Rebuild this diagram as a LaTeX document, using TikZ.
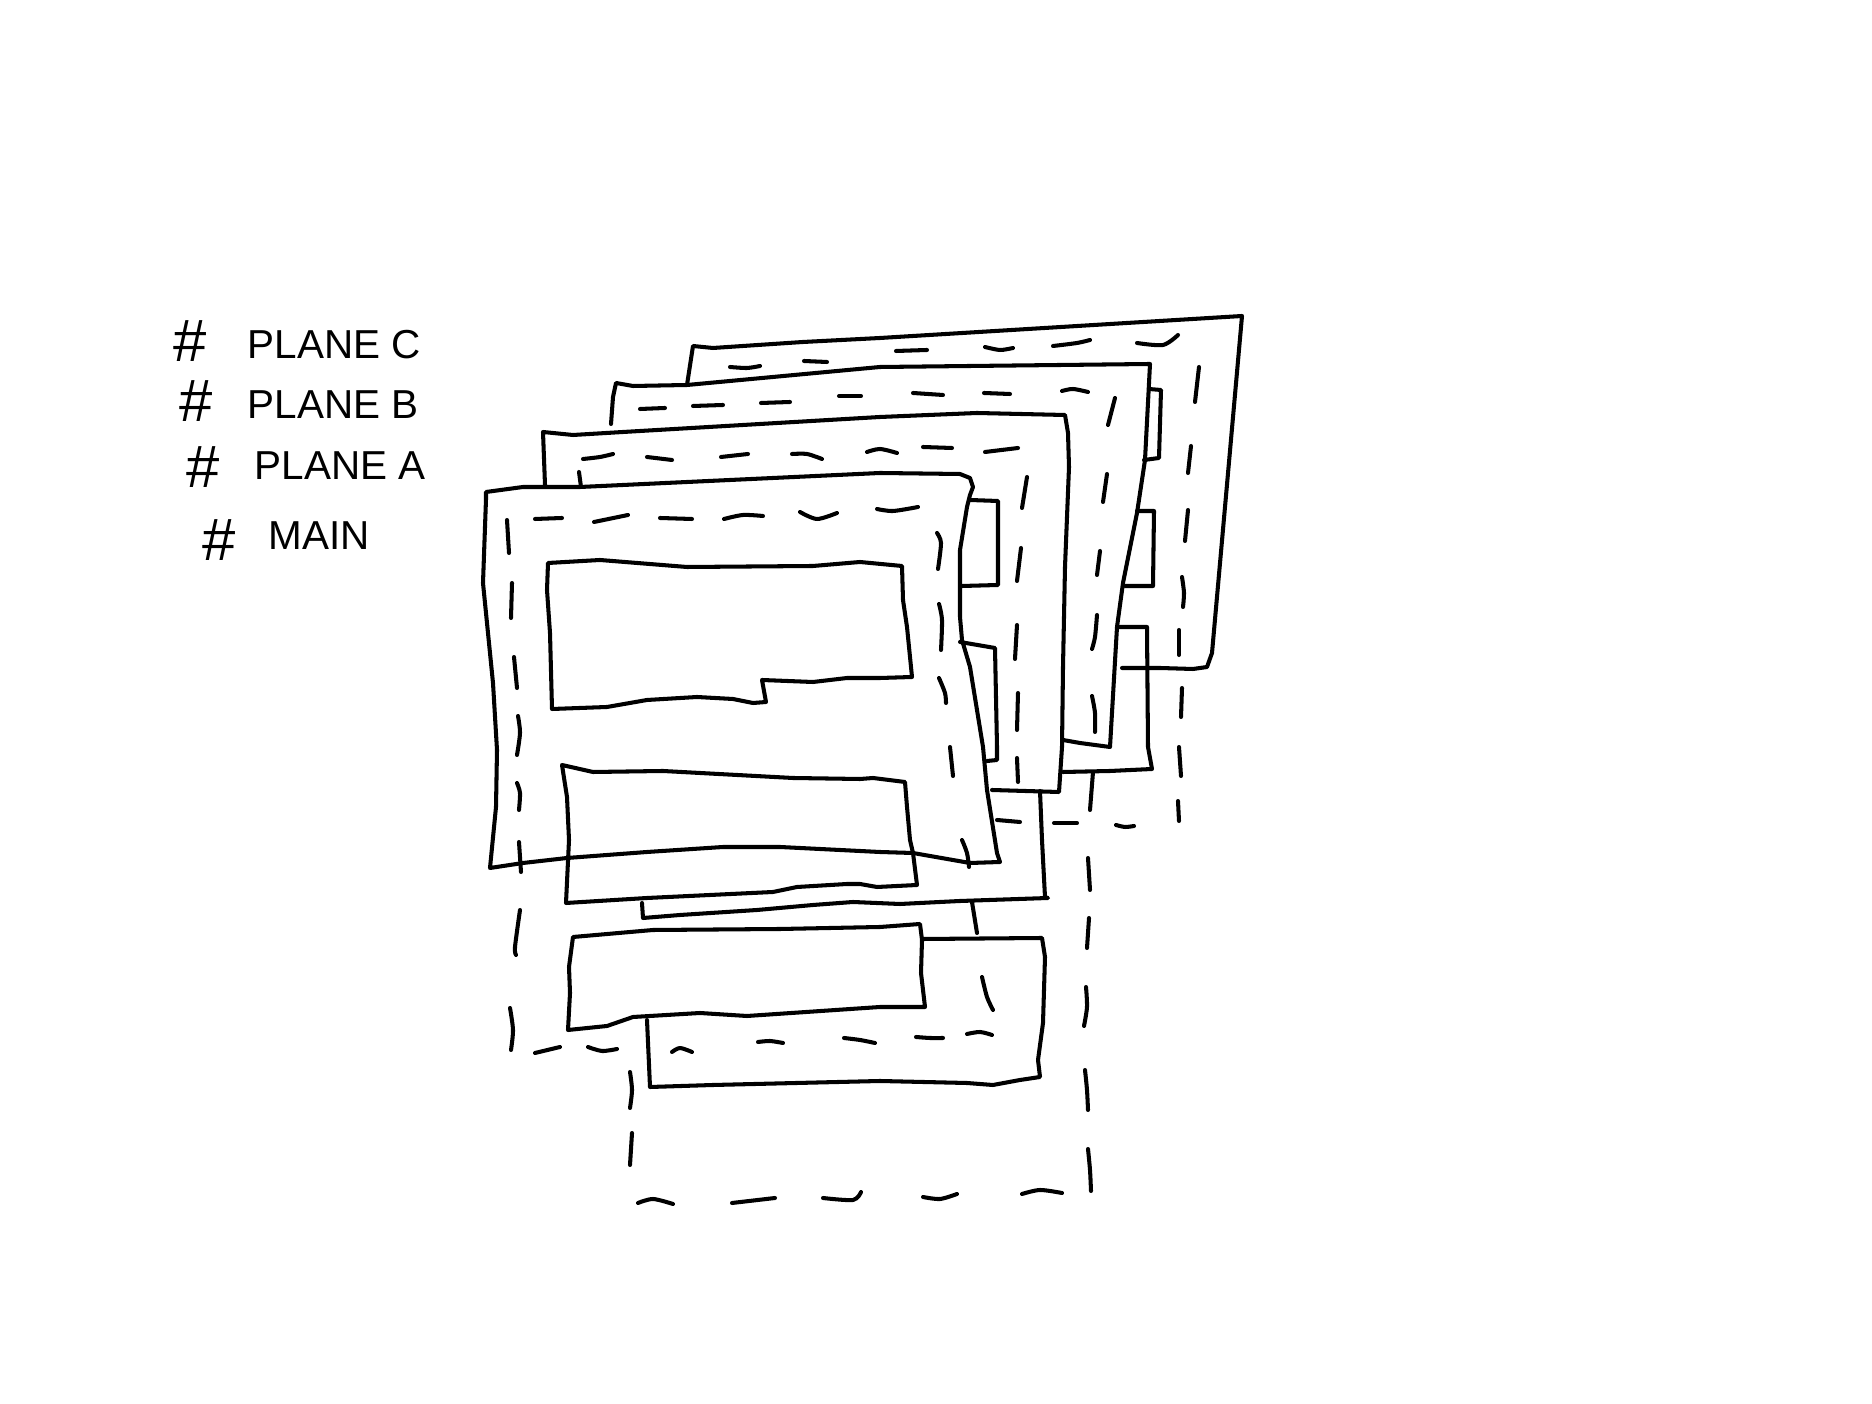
\documentclass[tikz,border=0pt]{standalone}
\usepackage{fontspec}
\setmainfont{Liberation Sans}
\newcommand{\skd}[1]{\draw[ln] plot[smooth] coordinates {#1};}
\begin{document}
\begin{tikzpicture}[x=0.01cm,y=-0.01cm,
  ln/.style={line width=1.15pt, line join=round, line cap=round},
  lbl/.style={font=\fontsize{11.5}{12}\selectfont, inner sep=0pt, anchor=west},
  hsh/.style={font=\fontsize{17}{17}\selectfont, inner sep=0pt}]
\useasboundingbox[fill=white] (0,0) rectangle (1872,1404);

% legend
\node[hsh] (hc) at (190,341) {\#};
\node[lbl] (lc) at (247,345) {PLANE C};
\node[hsh] (hb) at (196,401) {\#};
\node[lbl] (lb) at (247,405) {PLANE B};
\node[hsh] (ha) at (203,467) {\#};
\node[lbl] (la) at (254,466) {PLANE A};
\node[hsh] (hm) at (219,540) {\#};
\node[lbl] (lm) at (268,536) {MAIN};

% ---------- plane C ----------
\draw[ln] (687,385) -- (693,346) -- (713,348) -- (803,342) -- (880,338) -- (1242,316) -- (1212,653) -- (1207,667) -- (1193,669) -- (1160,668) -- (1122,668);
\skd{(730,367)(747,368)(760,366)}
\skd{(804,361)(827,362)}
\skd{(896,351)(927,350)}
\skd{(985,347)(1000,350)(1013,348)}
\skd{(1053,346)(1077,343)(1090,340)}
\skd{(1137,343)(1163,345)(1178,335)}
\skd{(1199,367)(1195,402)}
\skd{(1191,446)(1188,473)}
\skd{(1188,510)(1185,541)}
\skd{(1182,577)(1184,593)(1183,607)}
\skd{(1179,630)(1179,655)}
\skd{(1182,688)(1181,717)}
\skd{(1179,747)(1181,776)}
\skd{(1178,801)(1179,821)}
\skd{(997,820)(1020,822)}
\skd{(1054,823)(1077,823)}
\skd{(1116,825)(1125,827)(1134,826)}

% ---------- plane B ----------
\draw[ln] (611,424) -- (613,397) -- (616,383) -- (633,386) -- (687,385) -- (880,367) -- (1150,364) -- (1145,460) -- (1137,513) -- (1123,583) -- (1117,627) -- (1110,747) -- (1080,743) -- (1063,740);
\draw[ln] (1149,389) -- (1161,390) -- (1159,458) -- (1144,460);
\draw[ln] (1137,511) -- (1154,511) -- (1153,586) -- (1125,586);
\draw[ln] (1118,627) -- (1147,627) -- (1148,747) -- (1152,769) -- (1110,771) -- (1063,772);
\skd{(640,409)(665,408)}
\skd{(693,406)(723,405)}
\skd{(761,403)(790,402)}
\skd{(839,396)(861,396)}
\skd{(913,393)(943,395)}
\skd{(984,393)(1010,394)}
\skd{(1062,391)(1073,389)(1088,392)}
\skd{(1115,398)(1108,425)}
\skd{(1107,474)(1103,502)}
\skd{(1100,551)(1097,575)}
\skd{(1097,615)(1095,637)(1092,649)}
\skd{(1092,696)(1095,713)(1095,732)}
\skd{(1093,772)(1090,810)}
\skd{(1088,858)(1090,890)}
\skd{(1089,918)(1087,948)}
\skd{(1086,987)(1087,1007)(1084,1026)}
\skd{(1085,1070)(1087,1090)(1088,1110)}
\skd{(1088,1149)(1090,1170)(1091,1191)}
\skd{(638,1203)(653,1199)(673,1204)}
\skd{(732,1203)(775,1198)}
\skd{(823,1198)(853,1200)(861,1192)}
\skd{(923,1197)(940,1199)(957,1194)}
\skd{(1022,1194)(1040,1190)(1062,1193)}
\skd{(630,1072)(632,1090)(630,1108)}
\skd{(632,1133)(630,1165)}

% ---------- plane A ----------
\draw[ln] (545,485) -- (543,432) -- (573,435) -- (623,432) -- (880,417) -- (977,413) -- (1065,415) -- (1068,433) -- (1069,467) -- (1065,567) -- (1063,667) -- (1062,747) -- (1059,792) -- (992,790);
\draw[ln] (1040,791) -- (1042,840) -- (1045,897) -- (1048,898) -- (960,901) -- (900,904) -- (853,902) -- (813,905) -- (757,910) -- (680,915) -- (643,918) -- (642,903);
\draw[ln] (970,500) -- (998,501) -- (998,585) -- (962,586);
\draw[ln] (960,642) -- (995,648) -- (997,747) -- (997,760) -- (987,761);
\skd{(583,459)(600,457)(613,454)}
\skd{(647,457)(672,460)}
\skd{(721,457)(748,454)}
\skd{(792,454)(807,454)(822,459)}
\skd{(867,452)(880,449)(897,453)}
\skd{(923,447)(952,448)}
\skd{(985,452)(1018,448)}
\skd{(579,472)(581,487)}
\skd{(1027,477)(1022,508)}
\skd{(1021,548)(1017,581)}
\skd{(1017,625)(1015,659)}
\skd{(1018,693)(1017,730)}
\skd{(1017,758)(1018,782)}

% ---------- main ----------
\draw[ln] (486,492) -- (523,487) -- (580,487) -- (880,473) -- (960,474) -- (970,478) -- (973,487) -- (970,495) -- (967,507) -- (960,550) -- (960,617) -- (962,640) -- (970,667) -- (983,747) -- (987,790) -- (997,853) -- (1000,862) -- (970,863) -- (913,853) -- (880,852) -- (780,847) -- (723,847) -- (647,852) -- (567,858) -- (523,863) -- (490,868) -- (496,807) -- (497,750) -- (493,683) -- (483,583) -- (486,499) -- cycle;
\skd{(535,519)(562,518)}
\skd{(594,522)(628,515)}
\skd{(660,518)(692,519)}
\skd{(724,519)(743,515)(763,516)}
\skd{(800,512)(817,519)(837,513)}
\skd{(877,509)(893,511)(918,507)}
\skd{(507,520)(509,553)}
\skd{(512,583)(511,618)}
\skd{(514,657)(517,688)}
\skd{(518,716)(520,733)(517,755)}
\skd{(517,783)(520,793)(519,810)}
\skd{(519,842)(521,872)}
\skd{(520,910)(515,947)(516,955)}
\skd{(510,1008)(513,1030)(511,1050)}
\skd{(535,1053)(560,1047)}
\skd{(588,1047)(602,1051)(617,1049)}
\skd{(672,1052)(680,1048)(692,1052)}
\skd{(758,1042)(770,1041)(783,1043)}
\skd{(844,1038)(860,1040)(875,1043)}
\skd{(916,1037)(930,1038)(943,1038)}
\skd{(967,1034)(980,1032)(992,1035)}
\skd{(937,533)(941,543)(938,569)}
\skd{(939,604)(942,620)(941,650)}
\skd{(939,678)(945,693)(946,703)}
\skd{(950,747)(953,776)}
\skd{(962,840)(967,853)(969,867)}
\skd{(972,902)(977,933)}
\skd{(982,977)(987,997)(993,1010)}

% inner rectangles
\draw[ln] (548,563) -- (600,560) -- (687,567) -- (813,566) -- (860,562) -- (902,566) -- (903,600) -- (907,627) -- (912,677) -- (880,678) -- (847,678) -- (813,682) -- (762,680) -- (766,702) -- (753,703) -- (733,699) -- (697,697) -- (647,700) -- (607,707) -- (552,709) -- (550,633) -- (547,590) -- cycle;
\draw[ln] (562,765) -- (593,772) -- (663,771) -- (793,778) -- (860,779) -- (873,778) -- (905,782) -- (907,807) -- (910,840) -- (913,853) -- (917,885) -- (877,887) -- (860,884) -- (847,884) -- (797,887) -- (773,892) -- (647,898) -- (566,903) -- (569,840) -- (567,797) -- cycle;
\draw[ln] (573,937) -- (653,930) -- (780,929) -- (880,927) -- (920,924) -- (922,940) -- (921,973) -- (925,1007) -- (880,1007) -- (747,1016) -- (700,1013) -- (633,1017) -- (607,1026) -- (568,1030) -- (570,993) -- (569,967) -- cycle;
\draw[ln] (647,1020) -- (650,1087) -- (713,1085) -- (880,1081) -- (967,1083) -- (993,1085) -- (1020,1080) -- (1040,1077) -- (1038,1060) -- (1043,1023) -- (1045,957) -- (1042,938) -- (923,939);
\end{tikzpicture}
\end{document}
